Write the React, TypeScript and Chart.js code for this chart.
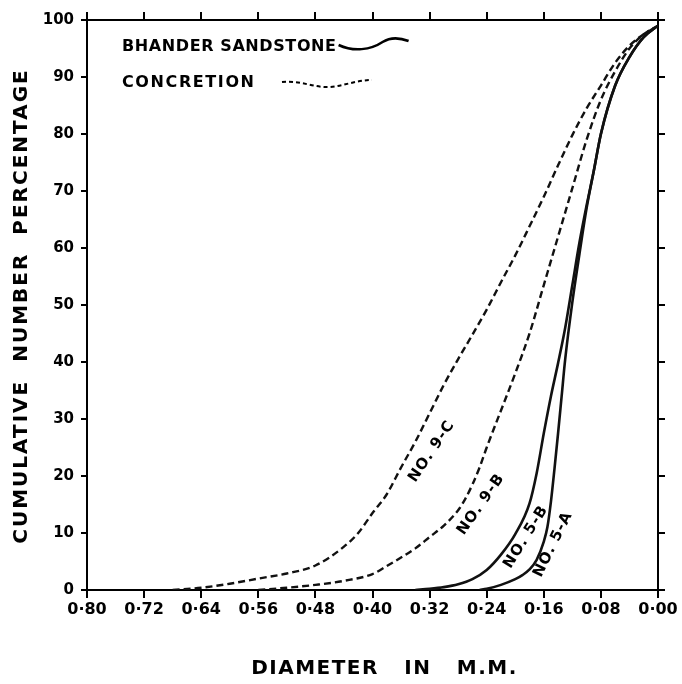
import React, { useEffect, useRef } from "react";
import { Chart, registerables } from "chart.js";

Chart.register(...registerables);

const FONT = "'DejaVu Sans', sans-serif";

// Concretion No. 9-C (dashed)
const diam9C = [0.68, 0.64, 0.6, 0.56, 0.52, 0.48, 0.44, 0.42, 0.4, 0.38, 0.36, 0.34, 0.32, 0.3, 0.28, 0.26, 0.24, 0.22, 0.2, 0.18, 0.16, 0.14, 0.12, 0.1, 0.08, 0.06, 0.04, 0.02, 0.0];
const pct9C = [0, 0.4, 1.1, 2.0, 2.9, 4.3, 7.6, 10, 13.5, 16.8, 21.5, 26, 31, 36, 40.5, 44.8, 49.2, 54, 58.7, 63.8, 69, 74.5, 79.8, 84.5, 88.5, 92.5, 95.5, 97.5, 99];

// Concretion No. 9-B (dashed)
const diam9B = [0.56, 0.52, 0.48, 0.44, 0.4, 0.38, 0.36, 0.34, 0.32, 0.3, 0.28, 0.27, 0.26, 0.25, 0.24, 0.22, 0.2, 0.18, 0.16, 0.14, 0.12, 0.1, 0.08, 0.06, 0.04, 0.02, 0.0];
const pct9B = [0, 0.4, 0.9, 1.6, 2.8, 4.2, 5.7, 7.3, 9.3, 11.3, 14, 16, 18.5, 21.5, 25, 31.5, 38, 45, 53.5, 62, 70.5, 79, 86, 91, 95, 97.5, 99];

// Bhander sandstone No. 5-B (solid)
const diam5B = [0.34, 0.32, 0.3, 0.28, 0.26, 0.24, 0.22, 0.2, 0.18, 0.17, 0.16, 0.15, 0.14, 0.13, 0.12, 0.11, 0.1, 0.09, 0.08, 0.06, 0.04, 0.02, 0.0];
const pct5B = [0, 0.2, 0.5, 1.0, 1.9, 3.5, 6.2, 9.8, 15.2, 20.5, 27.5, 34, 39.8, 46, 53.5, 61, 67.5, 73.5, 80, 88.5, 93.5, 97, 99];

// Bhander sandstone No. 5-A (solid)
const diam5A = [0.25, 0.24, 0.22, 0.2, 0.19, 0.18, 0.17, 0.16, 0.155, 0.15, 0.145, 0.14, 0.135, 0.13, 0.12, 0.11, 0.1, 0.09, 0.08, 0.06, 0.04, 0.02, 0.0];
const pct5A = [0, 0.2, 0.9, 1.9, 2.6, 3.6, 5.3, 8.5, 11, 15.5, 21.3, 27.5, 34, 40.5, 50.5, 59, 67, 73.5, 80, 88.5, 93.5, 97, 99];

// Curve labels (anchored in data units)
const curveNames = ["NO. 9-C", "NO. 9-B", "NO. 5-B", "NO. 5-A"];
const curveLabelDiam = [0.317, 0.248, 0.185, 0.147];
const curveLabelPct = [24.3, 15, 9.3, 8];
const curveLabelAngle = [-56, -55, -58, -64];

const legendNames = ["BHANDER SANDSTONE", "CONCRETION"];
const xTitle = "DIAMETER   IN   M.M.";
const yTitle = "CUMULATIVE  NUMBER  PERCENTAGE";

const toPoints = (xs: number[], ys: number[]) => xs.map((x, i) => ({ x, y: ys[i] }));

const fmtDiam = (v: number) => Number(v).toFixed(2).replace(".", "\u00B7");

const overlayPlugin = {
  id: "overlay",
  afterDraw(chart: any) {
    const { ctx, chartArea, scales } = chart;
    const { left, top, right, bottom } = chartArea;
    ctx.save();
    ctx.fillStyle = "#000";
    ctx.strokeStyle = "#000";

    // Legend
    ctx.font = `bold 16px ${FONT}`;
    (ctx as any).letterSpacing = "0.6px";
    ctx.textAlign = "left";
    ctx.textBaseline = "alphabetic";
    const lx = left + 35;
    const l1y = top + 31;
    const l2y = top + 67;
    ctx.fillText(legendNames[0], lx, l1y);
    const w1 = ctx.measureText(legendNames[0]).width;
    (ctx as any).letterSpacing = "1.6px";
    ctx.fillText(legendNames[1], lx, l2y);

    ctx.lineWidth = 2.5;
    ctx.setLineDash([]);
    let sx = lx + w1 + 2;
    ctx.beginPath();
    ctx.moveTo(sx, l1y - 6);
    ctx.bezierCurveTo(sx + 15, l1y + 1, sx + 32, l1y - 1, sx + 44, l1y - 9);
    ctx.bezierCurveTo(sx + 52, l1y - 14, sx + 62, l1y - 13, sx + 70, l1y - 10);
    ctx.stroke();

    sx = lx + 160;
    ctx.lineWidth = 2;
    ctx.setLineDash([4, 3]);
    ctx.beginPath();
    ctx.moveTo(sx, l2y - 5);
    ctx.bezierCurveTo(sx + 18, l2y - 7, sx + 32, l2y + 1, sx + 48, l2y);
    ctx.bezierCurveTo(sx + 62, l2y - 1, sx + 74, l2y - 7, sx + 90, l2y - 7);
    ctx.stroke();
    ctx.setLineDash([]);

    // Curve labels
    ctx.font = `bold 15px ${FONT}`;
    (ctx as any).letterSpacing = "1px";
    ctx.textAlign = "center";
    ctx.textBaseline = "middle";
    curveNames.forEach((name, i) => {
      const px = scales.x.getPixelForValue(curveLabelDiam[i]);
      const py = scales.y.getPixelForValue(curveLabelPct[i]);
      ctx.save();
      ctx.translate(px, py);
      ctx.rotate((curveLabelAngle[i] * Math.PI) / 180);
      ctx.fillText(name, 0, 0);
      ctx.restore();
    });

    // Axis titles
    ctx.font = `bold 20px ${FONT}`;
    (ctx as any).letterSpacing = "1.5px";
    ctx.textAlign = "center";
    ctx.textBaseline = "middle";
    ctx.fillText(xTitle, (left + right) / 2 + 12, bottom + 79);

    (ctx as any).letterSpacing = "2px";
    ctx.save();
    ctx.translate(22, (top + bottom) / 2 + 1);
    ctx.rotate(-Math.PI / 2);
    ctx.fillText(yTitle, 0, 0);
    ctx.restore();

    ctx.restore();
  },
};

export default function App() {
  const canvasRef = useRef<HTMLCanvasElement | null>(null);

  useEffect(() => {
    if (!canvasRef.current) return;
    const solid = { borderColor: "#111", borderWidth: 2.6, pointRadius: 0, fill: false, cubicInterpolationMode: "monotone" as const };
    const dashed = { ...solid, borderWidth: 2.4, borderDash: [7, 4] };
    const tickFont = { family: FONT, size: 15, weight: "bold" as const };
    const axisGrid = { drawOnChartArea: false, drawTicks: true, color: "#000", lineWidth: 2 };
    const axisBorder = { display: true, color: "#000", width: 2 };

    const chart = new Chart(canvasRef.current, {
      type: "line",
      data: {
        datasets: [
          { label: "No. 9-C", data: toPoints(diam9C, pct9C), ...dashed },
          { label: "No. 9-B", data: toPoints(diam9B, pct9B), ...dashed },
          { label: "No. 5-B", data: toPoints(diam5B, pct5B), ...solid },
          { label: "No. 5-A", data: toPoints(diam5A, pct5A), ...solid },
        ],
      },
      options: {
        responsive: false,
        animation: false,
        layout: { padding: { top: 12, right: 17, left: 0, bottom: 0 } },
        plugins: { legend: { display: false }, tooltip: { enabled: false }, title: { display: false } },
        scales: {
          x: {
            type: "linear",
            position: "bottom",
            min: 0,
            max: 0.8,
            reverse: true,
            display: true,
            ticks: { stepSize: 0.08, autoSkip: false, maxRotation: 0, color: "#000", font: { ...tickFont, size: 16 }, padding: 2, callback: (v: any) => fmtDiam(v) },
            grid: { ...axisGrid, tickLength: 8 },
            border: axisBorder,
            afterFit: (s: any) => { s.height = 94; },
          },
          x2: {
            type: "linear",
            position: "top",
            min: 0,
            max: 0.8,
            reverse: true,
            display: true,
            ticks: { display: false, stepSize: 0.08 },
            grid: { ...axisGrid, tickLength: 8 },
            border: axisBorder,
            afterFit: (s: any) => { s.height = 8; },
          },
          y: {
            type: "linear",
            position: "left",
            min: 0,
            max: 100,
            display: true,
            ticks: { stepSize: 10, color: "#000", font: tickFont, padding: 7 },
            grid: { ...axisGrid, tickLength: 6 },
            border: axisBorder,
            afterFit: (s: any) => { s.width = 87; },
          },
          y2: {
            type: "linear",
            position: "right",
            min: 0,
            max: 100,
            display: true,
            ticks: { display: false, stepSize: 10 },
            grid: { ...axisGrid, tickLength: 7 },
            border: axisBorder,
            afterFit: (s: any) => { s.width = 7; },
          },
        },
      } as any,
      plugins: [overlayPlugin],
    });
    return () => chart.destroy();
  }, []);

  return (
    <div style={{ position: "absolute", left: 0, top: 0, width: 682, height: 684, background: "#fff" }}>
      <canvas ref={canvasRef} width={682} height={684} style={{ display: "block" }} />
    </div>
  );
}
